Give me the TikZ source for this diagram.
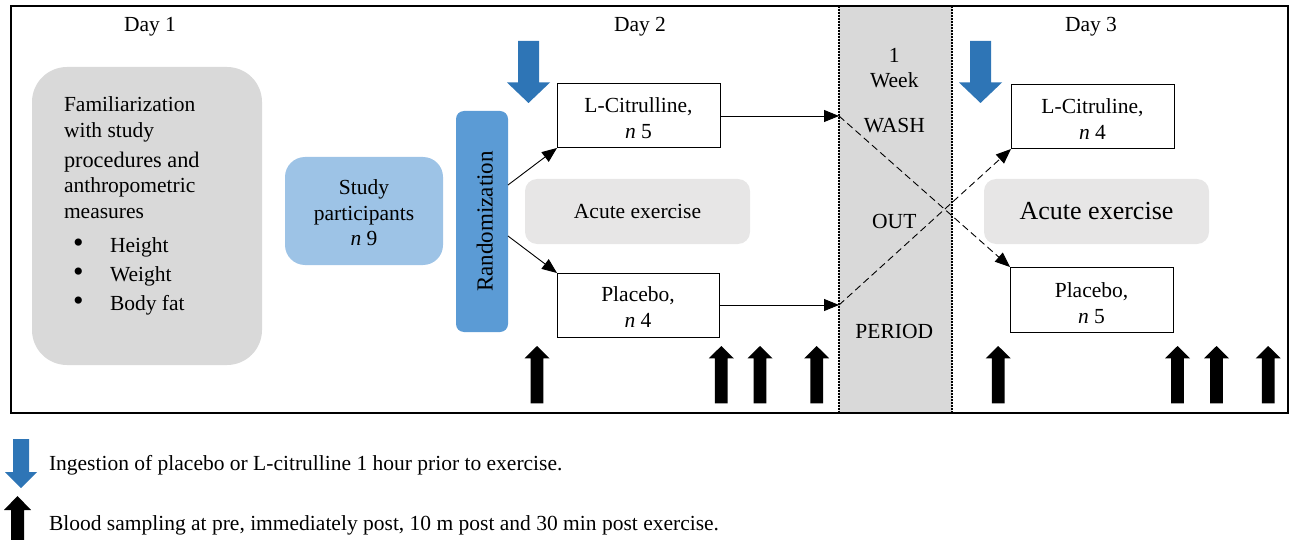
\documentclass[tikz,border=0pt]{standalone}
\usepackage{fontspec}
\setmainfont{Liberation Serif}
\usetikzlibrary{arrows.meta}
\definecolor{boxgray}{HTML}{D9D9D9}
\definecolor{exgray}{HTML}{E7E6E6}
\definecolor{partblue}{HTML}{9DC3E6}
\definecolor{randblue}{HTML}{5B9BD5}
\definecolor{arrowblue}{HTML}{2E75B6}
\newcommand\hlift[1]{\rule{0pt}{#1pt}}
\begin{document}
\begin{tikzpicture}[x=1pt,y=-1pt,
  every node/.style={inner sep=0pt, outer sep=0pt},
  font=\fontsize{21.5}{25.5}\selectfont,
  lbl/.style={anchor=base},
  lblw/.style={anchor=base west},
  bul/.style={anchor=center, font=\fontsize{30}{30}\selectfont},
  roundgray/.style={fill=boxgray, rounded corners=35pt},
  pbox/.style={draw=black, line width=1pt, fill=white, minimum width=163pt, minimum height=64pt, align=center},
  exbox/.style={fill=exgray, rounded corners=12pt, minimum width=225pt, minimum height=65pt},
  flow/.style={-{Triangle[length=15pt,width=12pt]}, line width=0.9pt},
  crossflow/.style={flow, dash pattern=on 7pt off 4pt},
  washline/.style={line width=1.3pt, dash pattern=on 2pt off 1pt},
  ingest/.pic={\fill[arrowblue] (-10.5,0) -- (10.5,0) -- (10.5,41.5) -- (21.5,41.5) -- (0,62) -- (-21.5,41.5) -- (-10.5,41.5) -- cycle;},
  blood/.pic={\fill[black] (0,0) -- (12.5,12.3) -- (6.4,12.3) -- (6.4,57.3) -- (-6.4,57.3) -- (-6.4,12.3) -- (-12.5,12.3) -- cycle;}
]
\useasboundingbox (0,0) rectangle (1290,540);

% washout band
\node[fill=boxgray, minimum width=113pt, minimum height=406.5pt] (wash) at (895.5,209.25) {};
\draw[washline] (wash.north west) -- (wash.south west);
\draw[washline] (wash.north east) -- (wash.south east);

% outer frame
\draw[line width=2pt] (11,6) rectangle (1288,412.5);

% day labels
\node[lbl] (day1) at (150,32) {Day 1};
\node[lbl] (day2) at (640,32) {Day 2};
\node[lbl] (day3) at (1091,32) {Day 3};

% day 1 box
\node[roundgray, minimum width=230pt, minimum height=298pt] (fam) at (147,216) {};
\node[lblw] (f1) at (64,111.7) {Familiarization};
\node[lblw] (f2) at (64,137.7) {with study};
\node[lblw, font=\fontsize{22.3}{26}\selectfont] (f3) at (64,167.7) {procedures and};
\node[lblw] (f4) at (64,192.7) {anthropometric};
\node[lblw] (f5) at (64,218.3) {measures};
\node[bul] (b1) at (78.3,245.5) {\textbullet};
\node[bul] (b2) at (78.3,274.5) {\textbullet};
\node[bul] (b3) at (78.3,303.5) {\textbullet};
\node[lblw] (m1) at (110,252.3) {Height};
\node[lblw] (m2) at (110,281) {Weight};
\node[lblw] (m3) at (110,310) {Body fat};

% study participants
\node[fill=partblue, rounded corners=20pt, minimum width=158pt, minimum height=108pt, align=center] (study) at (364,211) {\hlift{19}Study\\participants\\\textit{n} 9};

% randomization
\node[fill=randblue, rounded corners=8pt, rotate=90, minimum width=221pt, minimum height=52pt, text height=21.5pt, font=\fontsize{23}{27}\selectfont] (rand) at (482,221.5) {Randomization};

% day 2
\pic at (528.5,41) {ingest};
\node[pbox] (citr1) at (638.5,116) {\hlift{19}L-Citrulline,\\\textit{n} 5};
\node[exbox] (ex1) at (637.5,211.5) {Acute exercise};
\node[pbox, minimum width=162pt] (plac1) at (638,305) {\hlift{19}Placebo,\\\textit{n} 4};

% washout text
\node[lbl] (w1) at (894.3,62.3) {1};
\node[lbl] (w2) at (894.3,87.7) {Week};
\node[lbl] (w3) at (894.3,132.3) {WASH};
\node[lbl] (w4) at (894.3,228.3) {OUT};
\node[lbl] (w5) at (894.3,338.3) {PERIOD};

% day 3
\pic at (980.5,41) {ingest};
\node[pbox] (citr3) at (1092.5,117) {\hlift{19.5}L-Citruline,\\\textit{n} 4};
\node[exbox, font=\fontsize{26}{30}\selectfont] (ex3) at (1096.5,211.5) {Acute exercise};
\node[pbox, minimum height=65pt] (plac3) at (1091.5,299.5) {\hlift{22}Placebo,\\\textit{n} 5};

% connectors
\draw[flow] ([yshift=36.5pt]rand.south) -- (citr1.south west);
\draw[flow] ([yshift=-14.5pt]rand.south) -- (plac1.north west);
\coordinate (endA) at (citr1.east -| wash.west);
\coordinate (endB) at (plac1.east -| wash.west);
\draw[flow] (citr1.east) -- (endA);
\draw[flow] (plac1.east) -- (endB);
\draw[crossflow] (endA) -- (plac3.north west);
\draw[crossflow] (endB) -- (citr3.south west);

% blood sampling arrows
\foreach \bx in {537,721.3,760,816.7,998.2,1177.5,1216.5,1268.2}
  \pic at (\bx,346) {blood};

% legend
\fill[arrowblue] (13,439) -- (29,439) -- (29,472) -- (37,472) -- (21,488) -- (5,472) -- (13,472) -- cycle;
\fill[black] (17.5,496) -- (31,510) -- (24,510) -- (24,540) -- (11,540) -- (11,510) -- (4,510) -- cycle;
\node[lblw, font=\fontsize{21.5}{26}\selectfont] (leg1) at (49,470) {Ingestion of placebo or L-citrulline 1 hour prior to exercise.};
\node[lblw, font=\fontsize{21.5}{26}\selectfont] (leg2) at (49,530) {Blood sampling at pre, immediately post, 10 m post and 30 min post exercise.};
\end{tikzpicture}
\end{document}
